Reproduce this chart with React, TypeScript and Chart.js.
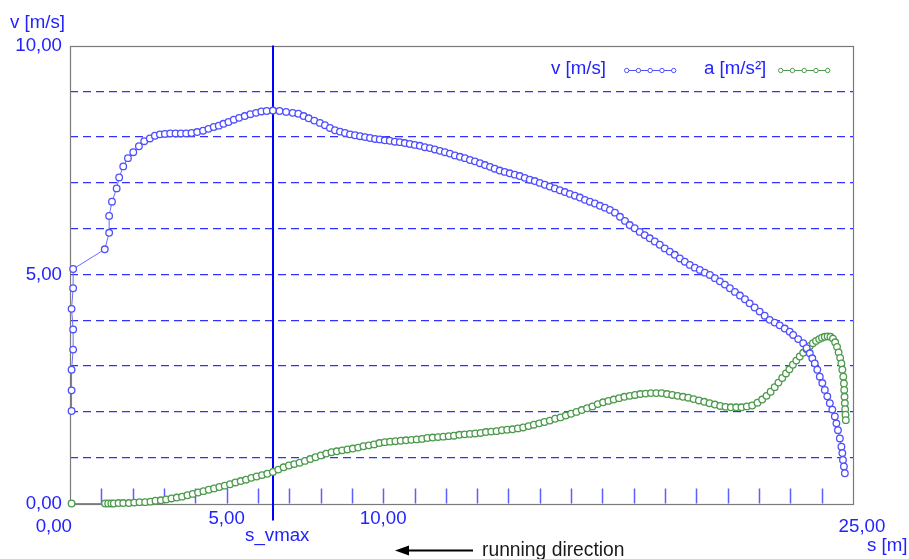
import { useEffect, useRef } from 'react';
import { Chart, registerables } from 'chart.js';
Chart.register(...registerables);

// distance s [m] for the velocity samples
const vS = [
  0.05, 0.05, 0.05, 0.10, 0.10, 0.05, 0.10, 0.10,
  1.11, 1.25, 1.25, 1.34, 1.49, 1.57, 1.70, 1.85, 2.02, 2.20, 2.37, 2.55,
  2.71, 2.87, 3.03, 3.20, 3.37, 3.54, 3.71, 3.88, 4.06, 4.25, 4.42, 4.59,
  4.75, 4.90, 5.06, 5.23, 5.40, 5.58, 5.76, 5.94, 6.11, 6.28, 6.48, 6.69,
  6.90, 7.11, 7.29, 7.46, 7.62, 7.80, 7.98, 8.14, 8.30, 8.46, 8.62, 8.78,
  8.94, 9.10, 9.26, 9.42, 9.58, 9.74, 9.89, 10.05, 10.21, 10.37, 10.53, 10.69,
  10.85, 11.01, 11.17, 11.33, 11.49, 11.65, 11.81, 11.97, 12.13, 12.29, 12.45, 12.61,
  12.77, 12.93, 13.09, 13.25, 13.41, 13.56, 13.72, 13.88, 14.04, 14.20, 14.36, 14.52,
  14.68, 14.84, 15.00, 15.16, 15.32, 15.48, 15.64, 15.80, 15.96, 16.12, 16.28, 16.44,
  16.60, 16.76, 16.92, 17.08, 17.24, 17.40, 17.56, 17.72, 17.87, 18.03, 18.19, 18.35,
  18.51, 18.67, 18.83, 18.99, 19.15, 19.31, 19.47, 19.63, 19.79, 19.95, 20.11, 20.27,
  20.43, 20.59, 20.75, 20.91, 21.07, 21.23, 21.39, 21.55, 21.70, 21.86, 22.02, 22.18,
  22.34, 22.50, 22.66, 22.82, 22.98, 23.09, 23.25, 23.41, 23.52, 23.62, 23.70, 23.78,
  23.86, 23.94, 24.02, 24.10, 24.18, 24.26, 24.34, 24.42, 24.47, 24.52, 24.58, 24.63,
  24.66, 24.68, 24.71, 24.74,
];
// velocity v [m/s]
const vValues = [
  2.02, 2.47, 2.92, 3.36, 3.80, 4.25, 4.70, 5.12,
  5.55, 5.91, 6.28, 6.59, 6.88, 7.12, 7.36, 7.54, 7.67, 7.80, 7.91, 7.97,
  8.03, 8.06, 8.07, 8.08, 8.08, 8.08, 8.08, 8.09, 8.11, 8.14, 8.18, 8.22,
  8.25, 8.29, 8.33, 8.38, 8.42, 8.46, 8.50, 8.53, 8.56, 8.57, 8.58, 8.57,
  8.55, 8.53, 8.51, 8.46, 8.41, 8.36, 8.31, 8.26, 8.20, 8.15, 8.12, 8.09,
  8.06, 8.04, 8.02, 8.00, 7.98, 7.96, 7.95, 7.93, 7.92, 7.90, 7.89, 7.87,
  7.85, 7.83, 7.81, 7.78, 7.76, 7.73, 7.70, 7.67, 7.64, 7.60, 7.57, 7.54,
  7.50, 7.47, 7.43, 7.39, 7.35, 7.31, 7.27, 7.24, 7.21, 7.18, 7.15, 7.11,
  7.07, 7.04, 7.00, 6.96, 6.92, 6.88, 6.84, 6.80, 6.76, 6.72, 6.68, 6.63,
  6.59, 6.55, 6.50, 6.46, 6.41, 6.35, 6.26, 6.17, 6.08, 6.01, 5.93, 5.86,
  5.79, 5.72, 5.65, 5.57, 5.50, 5.43, 5.35, 5.28, 5.21, 5.15, 5.10, 5.04,
  4.99, 4.92, 4.85, 4.78, 4.70, 4.62, 4.54, 4.46, 4.37, 4.28, 4.19, 4.10,
  4.01, 3.95, 3.89, 3.82, 3.75, 3.68, 3.59, 3.50, 3.39, 3.28, 3.17, 3.06,
  2.92, 2.77, 2.63, 2.48, 2.34, 2.19, 2.05, 1.90, 1.75, 1.60, 1.42, 1.24,
  1.10, 0.95, 0.81, 0.66,
];
// distance s [m] for the acceleration samples
const aS = [
  0.05, 1.12, 1.22, 1.32, 1.40, 1.55, 1.70, 1.88, 2.05, 2.22, 2.40, 2.57,
  2.73, 2.90, 3.07, 3.24, 3.41, 3.58, 3.75, 3.92, 4.09, 4.26, 4.43, 4.60,
  4.77, 4.94, 5.11, 5.28, 5.45, 5.62, 5.79, 5.96, 6.13, 6.30, 6.48, 6.65,
  6.82, 6.99, 7.16, 7.33, 7.50, 7.67, 7.84, 8.01, 8.18, 8.35, 8.52, 8.69,
  8.86, 9.03, 9.20, 9.37, 9.54, 9.71, 9.88, 10.05, 10.22, 10.39, 10.56, 10.73,
  10.90, 11.07, 11.24, 11.41, 11.58, 11.75, 11.92, 12.09, 12.26, 12.43, 12.60, 12.77,
  12.94, 13.11, 13.28, 13.45, 13.62, 13.79, 13.96, 14.13, 14.30, 14.47, 14.64, 14.81,
  14.98, 15.15, 15.32, 15.49, 15.66, 15.83, 16.00, 16.17, 16.34, 16.51, 16.68, 16.85,
  17.02, 17.19, 17.36, 17.53, 17.70, 17.87, 18.04, 18.21, 18.38, 18.55, 18.72, 18.89,
  19.06, 19.23, 19.40, 19.57, 19.74, 19.91, 20.08, 20.25, 20.42, 20.59, 20.76, 20.93,
  21.10, 21.27, 21.44, 21.61, 21.78, 21.95, 22.10, 22.24, 22.37, 22.50, 22.62, 22.74,
  22.86, 22.97, 23.08, 23.19, 23.30, 23.41, 23.52, 23.62, 23.72, 23.82, 23.92, 24.01,
  24.10, 24.19, 24.28, 24.36, 24.43, 24.49, 24.54, 24.59, 24.63, 24.66, 24.69, 24.71,
  24.72, 24.73, 24.74, 24.75, 24.76, 24.77,
];
// acceleration a [m/s²]
const aValues = [
  0.00, 0.00, 0.00, 0.00, 0.00, 0.01, 0.01, 0.01, 0.02, 0.03, 0.03, 0.04,
  0.06, 0.07, 0.09, 0.11, 0.13, 0.15, 0.18, 0.21, 0.24, 0.27, 0.30, 0.33,
  0.36, 0.39, 0.42, 0.46, 0.49, 0.52, 0.56, 0.59, 0.62, 0.65, 0.69, 0.74,
  0.79, 0.83, 0.86, 0.89, 0.93, 0.97, 1.01, 1.05, 1.09, 1.12, 1.14, 1.16,
  1.18, 1.20, 1.22, 1.25, 1.27, 1.29, 1.32, 1.34, 1.35, 1.36, 1.37, 1.38,
  1.39, 1.40, 1.41, 1.43, 1.44, 1.45, 1.46, 1.47, 1.48, 1.50, 1.51, 1.52,
  1.53, 1.54, 1.56, 1.57, 1.58, 1.60, 1.61, 1.62, 1.64, 1.66, 1.69, 1.72,
  1.75, 1.78, 1.81, 1.85, 1.88, 1.92, 1.96, 2.00, 2.04, 2.08, 2.12, 2.17,
  2.21, 2.24, 2.27, 2.30, 2.33, 2.35, 2.37, 2.39, 2.40, 2.41, 2.41, 2.41,
  2.39, 2.37, 2.35, 2.33, 2.31, 2.28, 2.25, 2.22, 2.19, 2.16, 2.13, 2.11,
  2.10, 2.10, 2.10, 2.12, 2.14, 2.20, 2.27, 2.35, 2.44, 2.54, 2.64, 2.74,
  2.84, 2.93, 3.03, 3.12, 3.21, 3.29, 3.37, 3.44, 3.50, 3.55, 3.59, 3.62,
  3.64, 3.65, 3.64, 3.60, 3.52, 3.42, 3.30, 3.18, 3.06, 2.92, 2.77, 2.62,
  2.48, 2.33, 2.19, 2.06, 1.94, 1.82,
];

const xLabelValues = [0, 5, 10, 25];
const yLabelValues = [0, 5, 10];
const sVmax = 6.49;
const xMin = 0, xMax = 25, yMin = 0, yMax = 10;
const seriesNames = ['v [m/s]', 'a [m/s²]'];
const xAxisTitle = 's [m]';
const yAxisTitle = 'v [m/s]';
const vmaxLabel = 's_vmax';
const directionLabel = 'running direction';

const FONT = 'Liberation Sans, Arial, sans-serif';
const FS = 18.7;
const TEXT_BLUE = '#2222ff';
const V_COLOR = '#4f4fff';
const A_COLOR = '#4c9a4c';

const fmt = (v: number) => v.toFixed(2).replace('.', ',');

const decorPlugin = {
  id: 'decor',
  beforeDatasetsDraw(chart: any) {
    const { ctx, chartArea: ca, scales } = chart;
    const x = scales.x;
    ctx.save();
    // minor ticks on x axis (inside plot)
    ctx.strokeStyle = '#5c5cff';
    ctx.lineWidth = 1.5;
    for (let i = xMin + 1; i < xMax; i++) {
      const px = Math.round(x.getPixelForValue(i)) + 0.5;
      ctx.beginPath();
      ctx.moveTo(px, ca.bottom);
      ctx.lineTo(px, ca.bottom - 15);
      ctx.stroke();
    }
    // plot box
    ctx.strokeStyle = '#7a7a7a';
    ctx.lineWidth = 1.2;
    ctx.strokeRect(Math.round(ca.left) + 0.5, Math.round(ca.top) + 0.5,
      Math.round(ca.right - ca.left), Math.round(ca.bottom - ca.top));
    // s_vmax line
    const vx = Math.round(x.getPixelForValue(sVmax));
    ctx.strokeStyle = '#0000ff';
    ctx.lineWidth = 2;
    ctx.beginPath();
    ctx.moveTo(vx, ca.top);
    ctx.lineTo(vx, ca.bottom + 17);
    ctx.stroke();
    ctx.restore();
  },
  afterDraw(chart: any) {
    const { ctx, chartArea: ca, scales } = chart;
    const x = scales.x;
    ctx.save();
    ctx.font = `${FS}px ${FONT}`;
    ctx.fillStyle = TEXT_BLUE;
    ctx.textBaseline = 'middle';
    // y axis title
    ctx.textAlign = 'left';
    ctx.fillText(yAxisTitle, 10, 23);
    // x labels at ends
    ctx.textAlign = 'right';
    ctx.fillText(fmt(xLabelValues[0]), x.getPixelForValue(xLabelValues[0]) + 2, ca.bottom + 23);
    ctx.textAlign = 'center';
    ctx.fillText(fmt(xLabelValues[3]), x.getPixelForValue(xLabelValues[3]) + 9, ca.bottom + 23);
    ctx.textAlign = 'left';
    ctx.fillText(xAxisTitle, x.getPixelForValue(xMax) + 14, ca.bottom + 42);
    // s_vmax label
    ctx.textAlign = 'center';
    ctx.fillText(vmaxLabel, x.getPixelForValue(sVmax) + 4, ca.bottom + 32);
    // running direction
    ctx.fillStyle = '#1a1a1a';
    ctx.textAlign = 'left';
    ctx.font = `${FS + 0.6}px ${FONT}`;
    ctx.fillText(directionLabel, 482, ca.bottom + 47);
    ctx.strokeStyle = '#000';
    ctx.lineWidth = 2;
    ctx.beginPath();
    ctx.moveTo(473, ca.bottom + 47);
    ctx.lineTo(405, ca.bottom + 47);
    ctx.stroke();
    ctx.beginPath();
    ctx.moveTo(395, ca.bottom + 47);
    ctx.lineTo(409, ca.bottom + 42);
    ctx.lineTo(409, ca.bottom + 52);
    ctx.closePath();
    ctx.fillStyle = '#000';
    ctx.fill();
    // legend
    ctx.font = `${FS}px ${FONT}`;
    const items = [
      { text: seriesNames[0], color: V_COLOR, tx: 551, sx: 626.7 },
      { text: seriesNames[1], color: A_COLOR, tx: 704, sx: 780.7 },
    ];
    for (const it of items) {
      ctx.fillStyle = TEXT_BLUE;
      ctx.textAlign = 'left';
      ctx.fillText(it.text, it.tx, 69);
      ctx.strokeStyle = it.color;
      ctx.lineWidth = 1;
      ctx.beginPath();
      ctx.moveTo(it.sx, 70.5);
      ctx.lineTo(it.sx + 47, 70.5);
      ctx.stroke();
      for (let k = 0; k < 5; k++) {
        ctx.beginPath();
        ctx.arc(it.sx + k * 11.75, 70.5, 2.2, 0, Math.PI * 2);
        ctx.fillStyle = '#fff';
        ctx.fill();
        ctx.stroke();
      }
    }
    ctx.restore();
  },
};

export default function App() {
  const ref = useRef<HTMLCanvasElement>(null);
  useEffect(() => {
    if (!ref.current) return;
    const chart = new Chart(ref.current, {
      type: 'scatter',
      data: {
        datasets: [
          {
            label: seriesNames[0],
            data: vS.map((s, i) => ({ x: s, y: vValues[i] })),
            showLine: true,
            borderColor: '#6a6aff',
            borderWidth: 1,
            pointBorderColor: V_COLOR,
            pointBackgroundColor: '#ffffff',
            pointRadius: 3.3,
            pointBorderWidth: 1.3,
            clip: false,
          } as any,
          {
            label: seriesNames[1],
            data: aS.map((s, i) => ({ x: s, y: aValues[i] })),
            showLine: true,
            borderColor: '#5fa55f',
            borderWidth: 1,
            pointBorderColor: A_COLOR,
            pointBackgroundColor: '#ffffff',
            pointRadius: 3.3,
            pointBorderWidth: 1.3,
            clip: false,
          } as any,
        ],
      },
      options: {
        animation: false,
        responsive: false,
        devicePixelRatio: 1,
        layout: { padding: { top: 45.5, right: 56, left: 0, bottom: 0 } },
        plugins: { legend: { display: false }, tooltip: { enabled: false } },
        scales: {
          x: {
            type: 'linear',
            min: xMin,
            max: xMax,
            afterFit: (s: any) => { s.height = 55.5; },
            grid: { display: false, drawTicks: false },
            border: { display: false },
            ticks: {
              stepSize: 5,
              autoSkip: false,
              maxRotation: 0,
              padding: 4,
              color: TEXT_BLUE,
              font: { family: FONT, size: FS },
              callback: (v: any) => (xLabelValues.slice(1, 3).includes(v) ? fmt(v) : ''),
            },
          },
          y: {
            type: 'linear',
            min: yMin,
            max: yMax,
            afterFit: (s: any) => { s.width = 70; },
            grid: {
              drawTicks: false,
              lineWidth: 1.2,
              color: (c: any) => (c.tick && (c.tick.value === yMin || c.tick.value === yMax) ? 'rgba(0,0,0,0)' : '#3030ff'),
            },
            border: { display: false, dash: [8, 5] },
            ticks: {
              stepSize: 1,
              autoSkip: false,
              padding: 8,
              color: TEXT_BLUE,
              font: { family: FONT, size: FS },
              callback: (v: any) => (yLabelValues.includes(v) ? fmt(v) : ''),
            },
          },
        },
      } as any,
      plugins: [decorPlugin],
    });
    return () => chart.destroy();
  }, []);
  return (
    <div style={{ position: 'fixed', left: 0, top: 0, width: 909, height: 559, background: '#fff' }}>
      <canvas ref={ref} width={909} height={559} style={{ width: 909, height: 559, display: 'block' }} />
    </div>
  );
}
